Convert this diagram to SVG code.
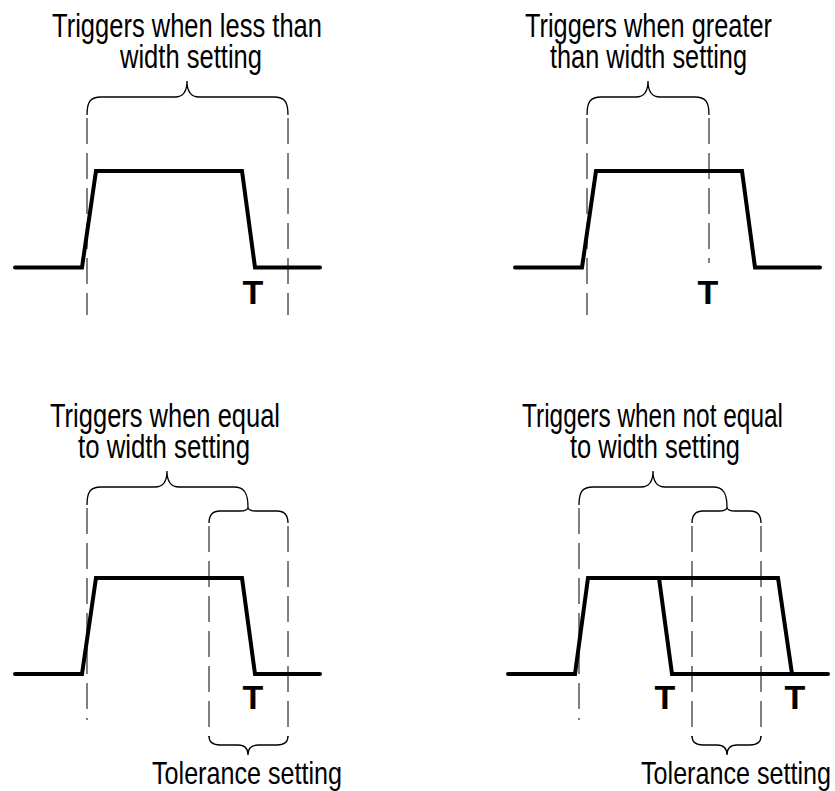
<svg xmlns="http://www.w3.org/2000/svg" width="835" height="791" viewBox="0 0 835 791">
<style>
.lbl{font-family:"Liberation Sans",Arial,sans-serif;font-size:33px;fill:#000}
.tol{font-family:"Liberation Sans",Arial,sans-serif;font-size:32px;fill:#000}
.t{font-family:"Liberation Sans",Arial,sans-serif;font-size:34px;font-weight:bold;fill:#000;text-anchor:middle}
.pulse{fill:none;stroke:#000;stroke-width:4;stroke-linejoin:miter;stroke-linecap:round}
.brace{fill:none;stroke:#000;stroke-width:1.3}
.dash{fill:none;stroke:#000;stroke-width:1;stroke-dasharray:26 9}
</style>
<rect width="835" height="791" fill="#fff"/>

<g id="panel-less-than">
<text class="lbl" x="52" y="37" textLength="270" lengthAdjust="spacingAndGlyphs">Triggers when less than</text>
<text class="lbl" x="120" y="68" textLength="142" lengthAdjust="spacingAndGlyphs">width setting</text>
<path class="brace" d="M87,115 C87,101 91,97 101,97 L175,97 C182,97 187,93 187,81 C187,93 192,97 199,97 L274,97 C284,97 288,101 288,115"/>
<line class="dash" x1="87" y1="118" x2="87" y2="315"/>
<line class="dash" x1="288" y1="118" x2="288" y2="315"/>
<path class="pulse" d="M15,267.5 H82 L96,171 H242 L255,267.5 H320"/>
<text class="t" x="253" y="304">T</text>
</g>

<g id="panel-greater-than">
<text class="lbl" x="525" y="37" textLength="247" lengthAdjust="spacingAndGlyphs">Triggers when greater</text>
<text class="lbl" x="550" y="68" textLength="197" lengthAdjust="spacingAndGlyphs">than width setting</text>
<path class="brace" d="M587,115 C587,101 591,97 601,97 L636,97 C643,97 648,93 648,81 C648,93 653,97 660,97 L695,97 C705,97 709,101 709,115"/>
<line class="dash" x1="587" y1="118" x2="587" y2="315"/>
<line class="dash" x1="709" y1="118" x2="709" y2="263"/>
<path class="pulse" d="M515,267.5 H582 L596,171 H742 L755,267.5 H820"/>
<text class="t" x="708" y="304">T</text>
</g>

<g id="panel-equal">
<text class="lbl" x="50" y="427" textLength="230" lengthAdjust="spacingAndGlyphs">Triggers when equal</text>
<text class="lbl" x="78" y="458" textLength="172" lengthAdjust="spacingAndGlyphs">to width setting</text>
<path class="brace" d="M87,505 C87,491 91,487 101,487 L155,487 C162,487 167,483 167,471 C167,483 172,487 179,487 L234,487 C244,487 248,493 248,507"/>
<path class="brace" d="M209,523 C209,515 212,511 220,511 L240,511 C245,511 248,510 248,507 C248,510 251,511 256,511 L277,511 C285,511 288,515 288,523"/>
<line class="dash" x1="87" y1="508" x2="87" y2="720"/>
<line class="dash" x1="209" y1="526" x2="209" y2="737"/>
<line class="dash" x1="288" y1="526" x2="288" y2="737"/>
<path class="pulse" d="M15,674 H82 L96,578 H242 L255,674 H320"/>
<text class="t" x="253" y="709">T</text>
<path class="brace" d="M209,736 C209,742 212,745 220,745 L238,745 C244,745 248,748 248,755 C248,748 252,745 258,745 L277,745 C285,745 288,742 288,736"/>
<text class="tol" x="152" y="784" textLength="190" lengthAdjust="spacingAndGlyphs">Tolerance setting</text>
</g>

<g id="panel-not-equal">
<text class="lbl" x="522" y="427" textLength="261" lengthAdjust="spacingAndGlyphs">Triggers when not equal</text>
<text class="lbl" x="570" y="458" textLength="170" lengthAdjust="spacingAndGlyphs">to width setting</text>
<path class="brace" d="M579,505 C579,491 583,487 593,487 L641,487 C648,487 653,483 653,471 C653,483 658,487 665,487 L713,487 C723,487 727,493 727,507"/>
<path class="brace" d="M692,523 C692,515 695,511 703,511 L719,511 C724,511 727,510 727,507 C727,510 730,511 735,511 L750,511 C758,511 761,515 761,523"/>
<line class="dash" x1="579" y1="508" x2="579" y2="720"/>
<line class="dash" x1="692" y1="526" x2="692" y2="737"/>
<line class="dash" x1="761" y1="526" x2="761" y2="737"/>
<path class="pulse" d="M508,674 H575 L588,578 H778 L792,674 H828"/>
<path class="pulse" d="M659,578 L672,674 H792"/>
<text class="t" x="665" y="709">T</text>
<text class="t" x="795" y="709">T</text>
<path class="brace" d="M692,736 C692,742 695,745 703,745 L717,745 C723,745 727,748 727,755 C727,748 731,745 737,745 L750,745 C758,745 761,742 761,736"/>
<text class="tol" x="641" y="784" textLength="190" lengthAdjust="spacingAndGlyphs">Tolerance setting</text>
</g>
</svg>
